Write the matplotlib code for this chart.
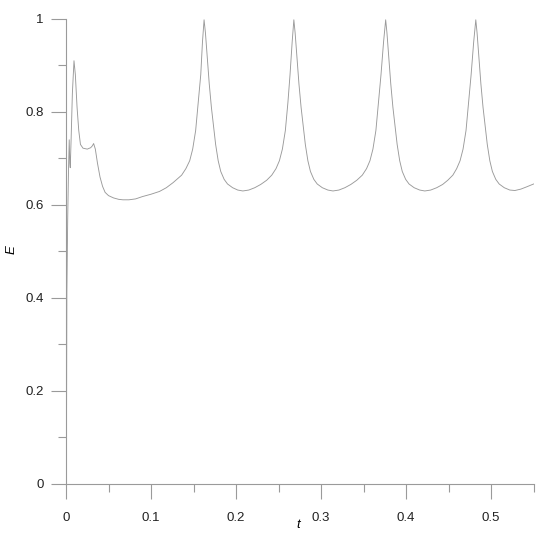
import matplotlib
matplotlib.use('Agg')
import matplotlib.pyplot as plt
import numpy as np
from matplotlib.ticker import MultipleLocator

plt.rcParams['font.family'] = ['Liberation Sans', 'DejaVu Sans']
plt.rcParams['font.size'] = 9.5

# energy trace (t, E)
t_start = [0.0005, 0.001, 0.0015, 0.002, 0.003, 0.0038, 0.0045, 0.005, 0.006, 0.0075,
           0.0094, 0.011, 0.013, 0.015, 0.017, 0.02, 0.025, 0.029, 0.031, 0.0325,
           0.0345, 0.037, 0.04, 0.043, 0.046, 0.05, 0.056, 0.062, 0.067, 0.074,
           0.082, 0.09, 0.1, 0.11, 0.118, 0.126, 0.136, 0.141, 0.1455, 0.149,
           0.1525, 0.1555, 0.1585, 0.1605, 0.1624]
e_start = [0.06, 0.41, 0.50, 0.57, 0.68, 0.74, 0.69, 0.68, 0.74, 0.84,
           0.91, 0.88, 0.81, 0.76, 0.73, 0.722, 0.72, 0.723, 0.727, 0.732,
           0.72, 0.69, 0.66, 0.64, 0.627, 0.62, 0.615, 0.612, 0.611, 0.611,
           0.613, 0.618, 0.623, 0.629, 0.637, 0.648, 0.664, 0.678, 0.695, 0.72,
           0.76, 0.82, 0.88, 0.95, 0.998]

t_cyc1 = [0.164, 0.166, 0.1685, 0.171, 0.1735, 0.176, 0.179, 0.182, 0.186, 0.19,
          0.196, 0.202, 0.208, 0.215, 0.222, 0.229, 0.236, 0.242, 0.247, 0.251,
          0.2545, 0.258, 0.261, 0.2635, 0.266, 0.268]
e_cyc1 = [0.97, 0.92, 0.86, 0.81, 0.77, 0.73, 0.695, 0.672, 0.655, 0.645,
          0.637, 0.632, 0.630, 0.632, 0.637, 0.644, 0.653, 0.664, 0.678, 0.695,
          0.72, 0.76, 0.82, 0.88, 0.95, 0.998]

t_cyc2 = [0.2695, 0.2715, 0.274, 0.2765, 0.279, 0.2815, 0.2845, 0.2875, 0.2915, 0.2955,
          0.3015, 0.308, 0.314, 0.321, 0.328, 0.335, 0.342, 0.3485, 0.3535, 0.3575,
          0.361, 0.3645, 0.3675, 0.3705, 0.3735, 0.376]
e_cyc2 = [0.97, 0.92, 0.86, 0.81, 0.77, 0.73, 0.695, 0.672, 0.655, 0.645,
          0.637, 0.632, 0.630, 0.632, 0.637, 0.644, 0.653, 0.664, 0.678, 0.695,
          0.72, 0.76, 0.82, 0.88, 0.95, 0.998]

t_cyc3 = [0.3775, 0.3795, 0.382, 0.3845, 0.387, 0.3895, 0.3925, 0.3955, 0.3995, 0.4035,
          0.4095, 0.416, 0.422, 0.429, 0.436, 0.443, 0.449, 0.455, 0.4595, 0.4635,
          0.467, 0.4705, 0.4735, 0.4765, 0.4795, 0.482]
e_cyc3 = [0.97, 0.92, 0.86, 0.81, 0.77, 0.73, 0.695, 0.672, 0.655, 0.645,
          0.637, 0.632, 0.630, 0.632, 0.637, 0.644, 0.653, 0.664, 0.678, 0.695,
          0.72, 0.76, 0.82, 0.88, 0.95, 0.998]

t_end = [0.4835, 0.4855, 0.488, 0.4905, 0.493, 0.4955, 0.4985, 0.5015, 0.5055, 0.5095,
         0.5155, 0.522, 0.528, 0.535, 0.542, 0.55]
e_end = [0.97, 0.92, 0.86, 0.81, 0.77, 0.73, 0.695, 0.672, 0.655, 0.645,
         0.637, 0.632, 0.631, 0.634, 0.639, 0.645]

t = t_start + t_cyc1 + t_cyc2 + t_cyc3 + t_end
E = e_start + e_cyc1 + e_cyc2 + e_cyc3 + e_end

grey = '#9a9a9a'

fig = plt.figure(figsize=(5.45, 5.44), dpi=100)
ax = fig.add_axes([0.1211, 0.1103, 0.858, 0.855])
ax.plot(t, E, color='#9a9a9a', lw=0.65)

ax.set_xlim(0, 0.55)
ax.set_ylim(0, 1)
ax.xaxis.set_major_locator(MultipleLocator(0.1))
ax.xaxis.set_minor_locator(MultipleLocator(0.05))
ax.yaxis.set_major_locator(MultipleLocator(0.2))
ax.yaxis.set_minor_locator(MultipleLocator(0.1))
ax.set_xticks([0, 0.1, 0.2, 0.3, 0.4, 0.5])
ax.set_xticklabels(['0', '0.1', '0.2', '0.3', '0.4', '0.5'])
ax.set_yticks([0, 0.2, 0.4, 0.6, 0.8, 1.0])
ax.set_yticklabels(['0', '0.2', '0.4', '0.6', '0.8', '1'])

for s in ['top', 'right']:
    ax.spines[s].set_visible(False)
for s in ['left', 'bottom']:
    ax.spines[s].set_color(grey)
    ax.spines[s].set_linewidth(0.8)

ax.tick_params(which='major', direction='out', length=11, width=0.8, color=grey, labelcolor='#222222')
ax.tick_params(which='minor', direction='out', length=6, width=0.8, color=grey)
ax.tick_params(axis='x', which='major', pad=9)
ax.tick_params(axis='y', which='major', pad=5)

fig.text(12 / 545, 1 - 250 / 544, 'E', style='italic', rotation=90, ha='center', va='center', fontsize=9.5)
fig.text(298 / 545, 1 - 525 / 544, 't', style='italic', ha='center', va='center', fontsize=9.5)

fig.savefig('out.png', dpi=100)
